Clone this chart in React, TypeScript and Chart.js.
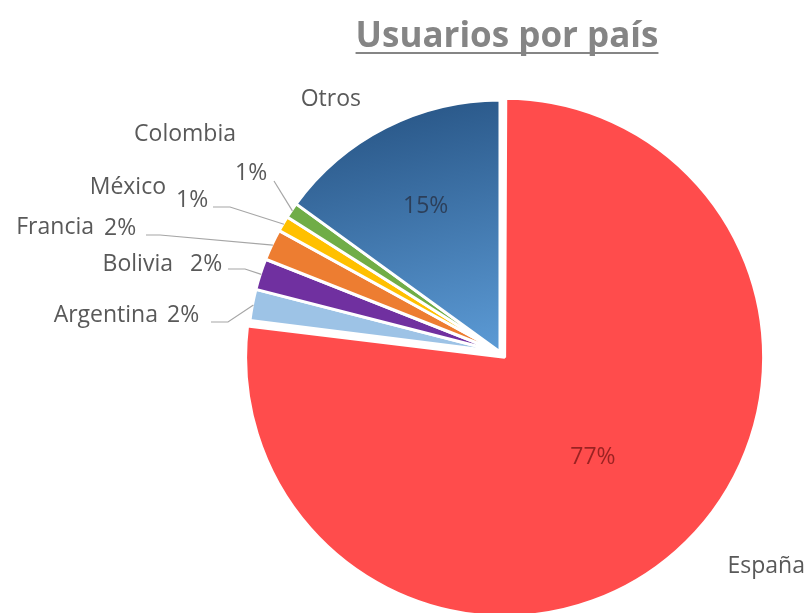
import React, { useEffect, useRef } from "react";
import { Chart, registerables } from "chart.js";

Chart.register(...registerables);

// ---- data ----
const chartTitle = "Usuarios por país";
const countries = ["España", "Argentina", "Bolivia", "Francia", "México", "Colombia", "Otros"];
const shares = [77, 2, 2, 2, 1, 1, 15];
const sliceColors = ["#FF4C4C", "#9DC3E6", "#7030A0", "#ED7D31", "#FFC000", "#70AD47", "#4A86C5"];
const explodeOffsets = [28, 0, 0, 0, 0, 0, 0];

// ---- label layout (positions only) ----
const LABEL_FONT = '23px "Open Sans", sans-serif';
const LABEL_COLOR = "#595959";
type OutLabel = {
  nameRightX: number; nameY: number;
  pctLeftX?: number; pctY?: number;
  leader?: number[][];
  inside?: number;
};
const labelLayout: Record<number, OutLabel> = {
  0: { nameRightX: 805, nameY: 566, inside: 0.53 },
  1: { nameRightX: 158, nameY: 315, pctLeftX: 167, pctY: 315, leader: [[211, 322], [228, 322]] },
  2: { nameRightX: 173, nameY: 264, pctLeftX: 190, pctY: 264, leader: [[228, 269], [245, 269]] },
  3: { nameRightX: 94, nameY: 227, pctLeftX: 104, pctY: 228, leader: [[146, 235], [160, 235]] },
  4: { nameRightX: 166, nameY: 187, pctLeftX: 176, pctY: 200, leader: [[213, 207], [230, 207]] },
  5: { nameRightX: 236, nameY: 134, pctLeftX: 235, pctY: 173, leader: [[274, 181]] },
  6: { nameRightX: 361, nameY: 99, inside: 0.65 },
};

const labelsPlugin = {
  id: "pieLabels",
  afterDatasetsDraw(chart: any) {
    const { ctx } = chart;
    const meta = chart.getDatasetMeta(0);
    const data = chart.data.datasets[0].data as number[];
    const total = data.reduce((a, b) => a + b, 0);
    ctx.save();
    ctx.textBaseline = "middle";
    meta.data.forEach((arc: any, i: number) => {
      const L = labelLayout[i];
      if (!L) return;
      const pct = Math.round((data[i] / total) * 100) + "%";
      const mid = (arc.startAngle + arc.endAngle) / 2;
      const shift = (arc.options.offset || 0) / 4;
      const cx = arc.x + Math.cos(mid) * shift;
      const cy = arc.y + Math.sin(mid) * shift;
      ctx.font = LABEL_FONT;
      ctx.fillStyle = LABEL_COLOR;
      if (L.inside !== undefined) {
        ctx.textAlign = "right";
        ctx.fillText(countries[i], L.nameRightX, L.nameY);
        const r = arc.outerRadius * L.inside;
        ctx.textAlign = "center";
        ctx.fillStyle = i === 0 ? "rgba(120,20,20,0.75)" : "rgba(40,50,70,0.8)";
        ctx.fillText(pct, cx + Math.cos(mid) * r, cy + Math.sin(mid) * r);
        return;
      }
      ctx.textAlign = "right";
      ctx.fillText(countries[i], L.nameRightX, L.nameY);
      ctx.textAlign = "left";
      ctx.fillText(pct, L.pctLeftX!, L.pctY!);
      if (L.leader) {
        const ex = cx + Math.cos(mid) * (arc.outerRadius - 1);
        const ey = cy + Math.sin(mid) * (arc.outerRadius - 1);
        ctx.beginPath();
        ctx.strokeStyle = "#A6A6A6";
        ctx.lineWidth = 1.2;
        ctx.moveTo(L.leader[0][0], L.leader[0][1]);
        for (let k = 1; k < L.leader.length; k++) ctx.lineTo(L.leader[k][0], L.leader[k][1]);
        ctx.lineTo(ex, ey);
        ctx.stroke();
      }
    });
    ctx.restore();
  },
};

const titlePlugin = {
  id: "underlinedTitle",
  afterDraw(chart: any) {
    const { ctx } = chart;
    ctx.save();
    ctx.font = 'bold 35px "Open Sans", sans-serif';
    ctx.fillStyle = "#858585";
    ctx.textAlign = "center";
    ctx.textBaseline = "alphabetic";
    const x = 507;
    const y = 47;
    ctx.fillText(chartTitle, x, y);
    const w = ctx.measureText(chartTitle).width;
    ctx.fillRect(x - w / 2, 52, w, 2);
    ctx.restore();
  },
};

export default function App() {
  const canvasRef = useRef<HTMLCanvasElement | null>(null);

  useEffect(() => {
    if (!canvasRef.current) return;
    const chart = new Chart(canvasRef.current, {
      type: "pie",
      data: {
        labels: countries,
        datasets: [
          {
            data: shares,
            backgroundColor: (c: any) => {
              const i = c.dataIndex;
              if (i === 6 && c.chart.chartArea) {
                const a = c.chart.chartArea;
                const cx = (a.left + a.right) / 2;
                const cy = (a.top + a.bottom) / 2;
                const g = c.chart.ctx.createLinearGradient(cx - 60, cy - 252, cx, cy);
                g.addColorStop(0, "#2A5889");
                g.addColorStop(1, "#5C9BD6");
                return g;
              }
              return sliceColors[i];
            },
            borderColor: "#FFFFFF",
            borderWidth: 3,
            offset: explodeOffsets,
            radius: 252,
          } as any,
        ],
      },
      options: {
        animation: false,
        responsive: true,
        maintainAspectRatio: false,
        rotation: 0,
        layout: { padding: { left: 194, right: 0, top: 91, bottom: 0 } },
        plugins: {
          legend: { display: false },
          tooltip: { enabled: false },
          title: { display: false },
        },
      },
      plugins: [labelsPlugin, titlePlugin],
    });
    return () => chart.destroy();
  }, []);

  return (
    <div style={{ position: "absolute", left: 0, top: 0, width: 806, height: 613, background: "#FFFFFF" }}>
      <canvas ref={canvasRef} />
    </div>
  );
}
